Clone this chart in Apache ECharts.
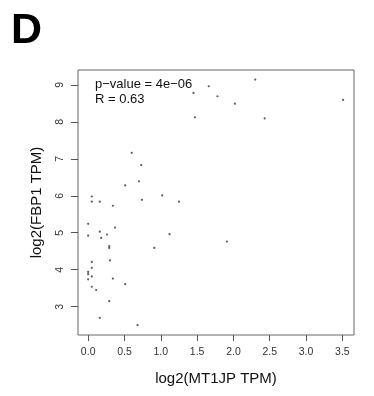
<!DOCTYPE html>
<html>
<head>
<meta charset="utf-8">
<script src="https://cdn.jsdelivr.net/npm/echarts@6/dist/echarts.min.js"></script>
<style>html,body{margin:0;padding:0;background:#fff;}#c{width:374px;height:396px;}</style>
</head>
<body>
<div id="c"></div>
<script>
const xVals = [1.66,2.30,1.45,1.78,2.02,3.51,1.47,2.43,0.60,0.73,0.70,0.51,0.05,1.02,0.05,0.16,0.74,1.25,0.34,0.00,0.37,0.16,0.00,0.26,1.12,0.18,1.91,0.29,0.29,0.91,0.30,0.05,0.05,0.00,0.00,0.05,0.00,0.34,0.51,0.05,0.11,0.29,0.16,0.68];
const yVals = [8.96,9.14,8.78,8.69,8.49,8.59,8.12,8.09,7.16,6.83,6.39,6.28,5.98,6.01,5.84,5.84,5.89,5.84,5.73,5.24,5.14,5.03,4.92,4.95,4.96,4.86,4.76,4.64,4.59,4.59,4.25,4.21,4.05,3.94,3.88,3.82,3.74,3.76,3.61,3.54,3.45,3.15,2.70,2.50];
const xTicks = [0,0.5,1,1.5,2,2.5,3,3.5];
const yTicks = [3,4,5,6,7,8,9];
const panelLabel = 'D';
const statLines = ['p\u2212value = 4e\u221206', 'R = 0.63'];
const xTitle = 'log2(MT1JP TPM)';
const yTitle = 'log2(FBP1 TPM)';

const pts = xVals.map((x, i) => [x, yVals[i]]);
const font = '"Liberation Sans", Arial, Helvetica, sans-serif';

// plot region (R-style: axis range extended 4% past data)
const G = { left: 78, top: 70, width: 276, height: 265 };
const xMin = -0.14, xMax = 3.66, yMin = 2.235, yMax = 9.40;
const xT0 = xTicks[0], xT1 = xTicks[xTicks.length - 1];
const yT0 = yTicks[0], yT1 = yTicks[yTicks.length - 1];
// inner grid spanning exactly the tick range (R draws axis only over tick range)
const g2left = G.left + (xT0 - xMin) / (xMax - xMin) * G.width;
const g2width = (xT1 - xT0) / (xMax - xMin) * G.width;
const g2top = G.top + (yMax - yT1) / (yMax - yMin) * G.height;
const g2height = (yT1 - yT0) / (yMax - yMin) * G.height;
const xOffset = (G.top + G.height) - (g2top + g2height);
const yOffset = g2left - G.left;

const chart = echarts.init(document.getElementById('c'));
chart.setOption({
  backgroundColor: '#fff',
  animation: false,
  grid: [
    { left: G.left, top: G.top, width: G.width, height: G.height, show: true, borderColor: '#666', borderWidth: 1, backgroundColor: 'transparent' },
    { left: g2left, top: g2top, width: g2width, height: g2height, show: false }
  ],
  xAxis: [
    { gridIndex: 0, type: 'value', min: xMin, max: xMax, show: true,
      axisLine: { show: false, onZero: false }, axisTick: { show: false }, axisLabel: { show: false }, splitLine: { show: false },
      name: xTitle, nameLocation: 'middle', nameGap: 36,
      nameTextStyle: { fontSize: 15, color: '#111', fontFamily: font } },
    { gridIndex: 1, type: 'value', min: xT0, max: xT1, interval: 0.5, offset: xOffset,
      axisLine: { show: false, onZero: false }, splitLine: { show: false },
      axisTick: { show: true, inside: false, length: 6, lineStyle: { color: '#555', width: 1 } },
      axisLabel: { margin: 12, fontSize: 10.5, color: '#333', fontFamily: font, formatter: v => v.toFixed(1) } }
  ],
  yAxis: [
    { gridIndex: 0, type: 'value', min: yMin, max: yMax, show: true,
      axisLine: { show: false, onZero: false }, axisTick: { show: false }, axisLabel: { show: false }, splitLine: { show: false },
      name: yTitle, nameLocation: 'middle', nameGap: 34, nameRotate: 90,
      nameTextStyle: { fontSize: 15, color: '#111', fontFamily: font } },
    { gridIndex: 1, type: 'value', min: yT0, max: yT1, interval: 1, offset: yOffset,
      axisLine: { show: false, onZero: false }, splitLine: { show: false },
      axisTick: { show: true, inside: false, length: 7, lineStyle: { color: '#555', width: 1 } },
      axisLabel: { margin: 12, rotate: 90, fontSize: 10.5, color: '#333', fontFamily: font, formatter: v => String(v) } }
  ],
  series: [{
    type: 'scatter', xAxisIndex: 0, yAxisIndex: 0, data: pts, symbol: 'circle', symbolSize: 2.2,
    itemStyle: { color: '#333' }
  }],
  graphic: [
    { type: 'text', left: 11, top: 10, style: { text: panelLabel, fontSize: 43, fontWeight: 'bold', fill: '#000', fontFamily: font } },
    { type: 'text', left: 95, top: 78, style: { text: statLines[0], fontSize: 13, fill: '#111', fontFamily: font } },
    { type: 'text', left: 95, top: 93, style: { text: statLines[1], fontSize: 13, fill: '#111', fontFamily: font } }
  ]
});
</script>
</body>
</html>
